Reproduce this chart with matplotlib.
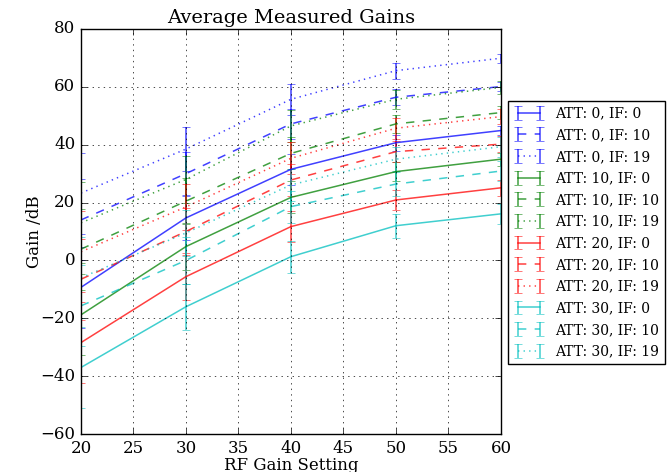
import matplotlib
matplotlib.use("Agg")
import matplotlib.pyplot as plt

plt.style.use("classic")
plt.rcParams["font.family"] = ["DejaVu Serif"]

rf_gain = [20, 30, 40, 50, 60]

att0_if0 = [-9.3, 14.7, 31.5, 40.7, 44.9]
att0_if10 = [14.0, 30.0, 47.2, 56.4, 60.1]
att0_if19 = [23.3, 38.5, 55.7, 65.6, 69.9]
att10_if0 = [-18.8, 4.8, 21.8, 30.7, 35.0]
att10_if10 = [3.9, 20.5, 37.0, 47.2, 51.1]
att10_if19 = [13.0, 28.0, 46.5, 55.7, 59.8]
att20_if0 = [-28.4, -5.6, 11.7, 20.9, 25.1]
att20_if10 = [-6.5, 10.0, 27.8, 37.6, 40.2]
att20_if19 = [3.0, 18.5, 35.3, 45.7, 49.7]
att30_if0 = [-37.0, -16.0, 1.3, 12.0, 16.1]
att30_if10 = [-15.7, 0.0, 18.6, 26.4, 30.9]
att30_if19 = [-6.0, 9.5, 26.1, 35.0, 39.3]

err_att0 = [14, 7.5, 5.3, 2.8, 1.5]
err_att10 = [14, 8, 5.5, 3.2, 2.2]
err_att20 = [14, 8, 5.5, 3.6, 2.7]
err_att30 = [14, 8, 5.5, 4.2, 3.5]

series = [
    ("ATT: 0, IF: 0", att0_if0, err_att0, "b", "-"),
    ("ATT: 0, IF: 10", att0_if10, err_att0, "b", "--"),
    ("ATT: 0, IF: 19", att0_if19, err_att0, "b", ":"),
    ("ATT: 10, IF: 0", att10_if0, err_att10, "g", "-"),
    ("ATT: 10, IF: 10", att10_if10, err_att10, "g", "--"),
    ("ATT: 10, IF: 19", att10_if19, err_att10, "g", ":"),
    ("ATT: 20, IF: 0", att20_if0, err_att20, "r", "-"),
    ("ATT: 20, IF: 10", att20_if10, err_att20, "r", "--"),
    ("ATT: 20, IF: 19", att20_if19, err_att20, "r", ":"),
    ("ATT: 30, IF: 0", att30_if0, err_att30, "c", "-"),
    ("ATT: 30, IF: 10", att30_if10, err_att30, "c", "--"),
    ("ATT: 30, IF: 19", att30_if19, err_att30, "c", ":"),
]

fig = plt.figure(figsize=(6.71, 4.72), dpi=100, facecolor="white")
ax = fig.add_axes([0.1207, 0.0805, 0.6259, 0.8581])

for label, vals, err, col, ls in series:
    eb = ax.errorbar(rf_gain, vals, yerr=err, color=col, linestyle=ls,
                     label=label, capsize=3, alpha=0.75, linewidth=1.1)
    eb[-1][0].set_linestyle("-")

ax.set_xlim(20, 60)
ax.set_ylim(-60, 80)
ax.set_xticks([20, 25, 30, 35, 40, 45, 50, 55, 60])
ax.set_yticks([-60, -40, -20, 0, 20, 40, 60, 80])
ax.grid(True)
ax.tick_params(labelsize=12)
ax.set_title("Average Measured Gains", fontsize=14, pad=4)
ax.set_xlabel("RF Gain Setting", fontsize=12, labelpad=0)
ax.set_ylabel("Gain /dB", fontsize=12, labelpad=-2)

ax.legend(loc="upper left", bbox_to_anchor=(0.757, 0.786),
          bbox_transform=fig.transFigure, fontsize=10, numpoints=2,
          borderaxespad=0, handlelength=2.2, labelspacing=0.55)

fig.savefig("out.png", dpi=100, facecolor="white")
